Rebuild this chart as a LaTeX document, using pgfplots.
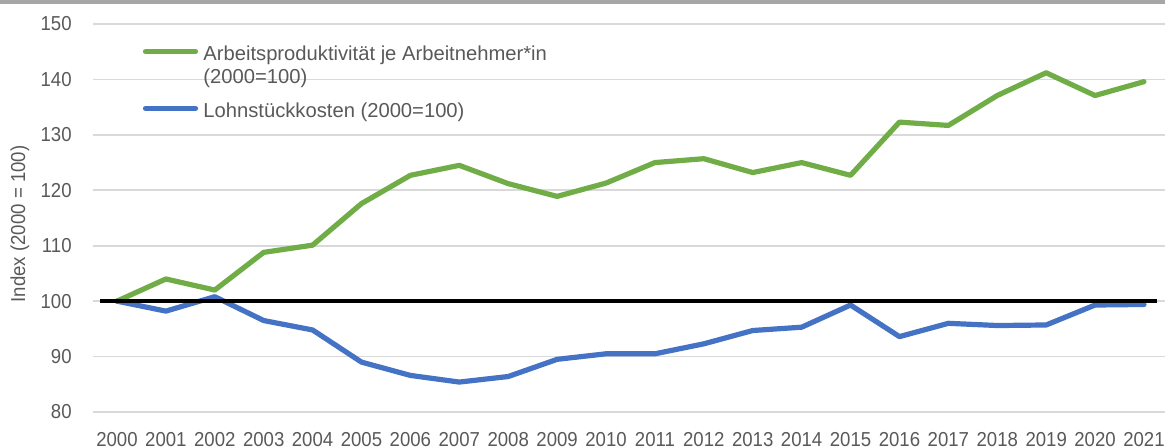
\documentclass[border=0pt]{standalone}
\usepackage{pgfplots}
\pgfplotsset{compat=1.18}
\usepackage{fontspec}
\setmainfont{Liberation Sans}
\newfontfamily\tickfont{Liberation Sans}[FakeStretch=0.92]
\definecolor{txt}{HTML}{595959}
\definecolor{grn}{HTML}{70AD47}
\definecolor{blu}{HTML}{4472C4}
\definecolor{grd}{HTML}{D9D9D9}
\definecolor{topbar}{HTML}{A6A6A6}
\begin{document}
\begin{tikzpicture}
\path[use as bounding box] (-46.5pt,-18pt) rectangle (536pt,206pt);
\fill[topbar] (-46.5pt,204pt) rectangle (536pt,207pt);
\begin{axis}[
  at={(0pt,0pt)}, anchor=south west,
  width=536pt, height=194pt, scale only axis,
  xmin=1999.51, xmax=2021.43, ymin=80, ymax=150,
  xtick={2000,2001,...,2021},
  ytick={80,90,...,150},
  /pgf/number format/assume math mode=true,
  /pgf/number format/1000 sep={},
  ymajorgrids, grid style={grd, line width=0.85pt},
  axis line style={draw=none},
  major tick length=0pt,
  tick label style={font=\tickfont\fontsize{10.1pt}{12pt}\selectfont, text=txt},
  yticklabel style={inner sep=0pt, xshift=-10.5pt},
  xticklabel style={inner sep=0pt, yshift=-9.9pt},
  ylabel={Index (2000 = 100)},
  every axis y label/.style={at={(axis description cs:-0.0681,0.4845)}, rotate=90, anchor=center, font=\tickfont\fontsize{10.1pt}{12pt}\selectfont, text=txt},
  every axis plot/.append style={line cap=round, line join=round},
]
\addplot[grn, line width=2.6pt] coordinates {
(2000,100) (2001,104.0) (2002,102.0) (2003,108.8) (2004,110.1) (2005,117.6) (2006,122.7) (2007,124.5) (2008,121.2) (2009,118.9) (2010,121.3)
(2011,125.0) (2012,125.7) (2013,123.2) (2014,125.0) (2015,122.7) (2016,132.3) (2017,131.7) (2018,137.1) (2019,141.2) (2020,137.1) (2021,139.6)};
\addplot[blu, line width=2.6pt] coordinates {
(2000,100) (2001,98.2) (2002,100.8) (2003,96.5) (2004,94.8) (2005,89.0) (2006,86.6) (2007,85.4) (2008,86.4) (2009,89.5) (2010,90.5)
(2011,90.5) (2012,92.3) (2013,94.7) (2014,95.3) (2015,99.3) (2016,93.6) (2017,96.0) (2018,95.6) (2019,95.7) (2020,99.3) (2021,99.4)};
\addplot[black, line width=1.8pt, line cap=butt] coordinates {(1999.65,100) (2021.27,100)};
\end{axis}
% legend
\begin{scope}[every node/.style={anchor=base west, inner sep=0pt, text=txt, font=\fontsize{10.1pt}{12pt}\selectfont}]
\draw[grn, line width=2.6pt, line cap=round] (26.25pt,180.15pt) -- (51.25pt,180.15pt);
\node at (55pt,175.65pt) {Arbeitsproduktivität je Arbeitnehmer*in};
\node at (55pt,164pt) {(2000=100)};
\draw[blu, line width=2.6pt, line cap=round] (26.25pt,151.85pt) -- (51.25pt,151.85pt);
\node at (55pt,147.35pt) {Lohnstückkosten (2000=100)};
\end{scope}
\end{tikzpicture}
\end{document}
